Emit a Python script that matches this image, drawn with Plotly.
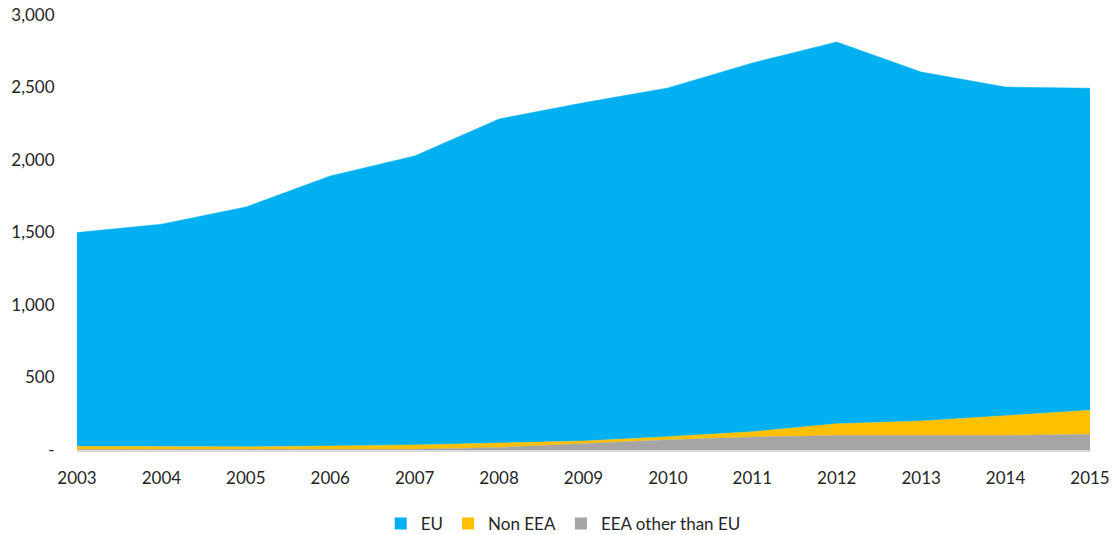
import plotly.graph_objects as go

years = [2003, 2004, 2005, 2006, 2007, 2008, 2009, 2010, 2011, 2012, 2013, 2014, 2015]
eea_other = [3, 3, 3, 4, 6, 18, 45, 70, 90, 100, 100, 100, 108]
non_eea = [22, 19, 19, 24, 29, 30, 17, 22, 36, 81, 100, 137, 166]
eu = [1475, 1535, 1654, 1862, 1993, 2235, 2333, 2405, 2543, 2633, 2407, 2266, 2221]

y_tickvals = [0, 500, 1000, 1500, 2000, 2500, 3000]
y_ticktext = ["-", "500", "1,000", "1,500", "2,000", "2,500", "3,000"]

series = [
    ("EEA other than EU", eea_other, "#A5A5A5"),
    ("Non EEA", non_eea, "#FFC000"),
    ("EU", eu, "#00B0F0"),
]

fig = go.Figure()
# stacked areas, bottom layer first
for name, vals, color in series:
    fig.add_trace(go.Scatter(
        x=years, y=vals, name=name, mode="lines",
        stackgroup="one", line=dict(width=0.5, color=color),
        fillcolor=color, showlegend=False,
    ))

# square legend keys: EU, Non EEA, EEA other than EU
for name, vals, color in reversed(series):
    fig.add_trace(go.Scatter(
        x=[None], y=[None], name=name, mode="markers",
        marker=dict(symbol="square", size=12, color=color),
        showlegend=True,
    ))

font_family = "Lato, 'Open Sans', sans-serif"

fig.update_layout(
    width=1113, height=535,
    margin=dict(l=77, r=23, t=15, b=85, autoexpand=False),
    paper_bgcolor="white", plot_bgcolor="white",
    font=dict(family=font_family, size=17, color="#262626"),
    showlegend=True,
    legend=dict(
        orientation="h", x=0.48, xanchor="center", y=-0.17, yanchor="middle",
        traceorder="normal", font=dict(size=17), itemwidth=30, tracegroupgap=0,
    ),
    xaxis=dict(
        range=[2003, 2015], tickvals=years, ticktext=[str(y) for y in years],
        showgrid=False, zeroline=False, showline=True,
        linecolor="#D9D9D9", linewidth=2, automargin=False,
        ticks="outside", ticklen=12, tickcolor="rgba(0,0,0,0)",
    ),
    yaxis=dict(
        range=[0, 3000], tickvals=y_tickvals, ticktext=y_ticktext,
        showgrid=False, zeroline=False, showline=False, automargin=False,
        ticks="outside", ticklen=18, tickcolor="rgba(0,0,0,0)",
    ),
)

fig.write_html("out.html")
